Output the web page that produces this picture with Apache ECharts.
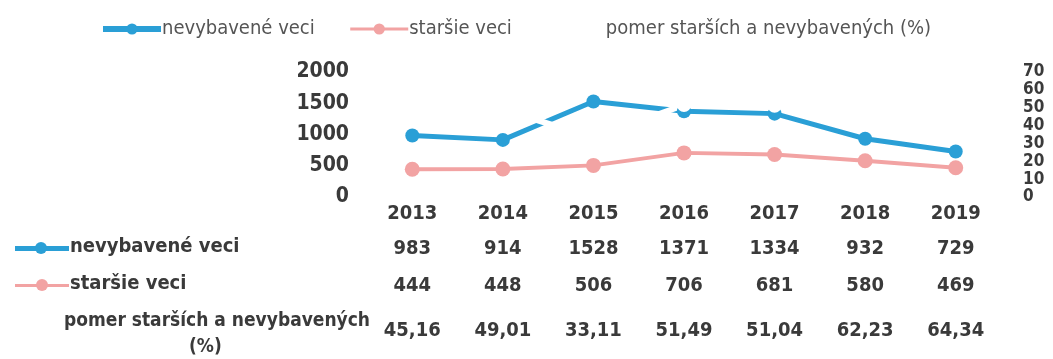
<!DOCTYPE html>
<html>
<head>
<meta charset="utf-8">
<script src="https://cdn.jsdelivr.net/npm/echarts@6/dist/echarts.min.js"></script>
<style>
  html, body { margin: 0; padding: 0; background: #fff; }
  #chart { width: 1053px; height: 359px; }
</style>
</head>
<body>
<div id="chart"></div>
<script>
// Years and the three yearly series
const years = ['2013', '2014', '2015', '2016', '2017', '2018', '2019'];
const nevybavene = [983, 914, 1528, 1371, 1334, 932, 729];
const starsie = [444, 448, 506, 706, 681, 580, 469];
const pomer = [45.16, 49.01, 33.11, 51.49, 51.04, 62.23, 64.34];
const pomerLabels = ['45,16', '49,01', '33,11', '51,49', '51,04', '62,23', '64,34'];

const seriesNames = ['nevybavené veci', 'staršie veci', 'pomer starších a nevybavených (%)'];

const FONT = "'Liberation Sans Narrow', 'DejaVu Sans Condensed', sans-serif";
const TXT = '#3a3a3a';
const BLUE = '#2a9fd6';
const PINK = '#f2a3a3';
const TABLE_SIZE = 20;

const chart = echarts.init(document.getElementById('chart'), null, { renderer: 'canvas' });

// Hidden category axes whose labels form the rows of the data table
function tableAxis(values, offset) {
  return {
    type: 'category',
    data: years,
    position: 'bottom',
    offset: offset,
    axisLine: { show: false },
    axisTick: { show: false },
    axisLabel: {
      interval: 0,
      fontFamily: FONT,
      fontWeight: 'bold',
      fontSize: TABLE_SIZE,
      color: TXT,
      margin: 7,
      formatter: (v, i) => String(values[i])
    }
  };
}

chart.setOption({
  animation: false,
  textStyle: { fontFamily: FONT },
  legend: {
    top: 14,
    left: 95,
    itemGap: 34,
    itemWidth: 58,
    itemHeight: 14,
    textStyle: { fontFamily: FONT, fontSize: 20, color: '#555', padding: [0, 0, 0, -4] },
    data: [
      { name: seriesNames[0], lineStyle: { width: 6 } },
      { name: seriesNames[1], lineStyle: { width: 3 } },
      { name: seriesNames[2] }
    ]
  },
  grid: { left: 367, right: 52, top: 72, bottom: 162, containLabel: false },
  xAxis: [
    {
      type: 'category',
      data: years,
      axisLine: { show: false },
      axisTick: { show: false },
      axisLabel: { interval: 0, fontFamily: FONT, fontWeight: 'bold', fontSize: TABLE_SIZE, color: TXT, margin: 7 }
    },
    tableAxis(nevybavene, 35),
    tableAxis(starsie, 72),
    tableAxis(pomerLabels, 117)
  ],
  yAxis: [
    {
      type: 'value',
      min: 0, max: 2000, interval: 500,
      splitLine: { show: false },
      axisLine: { show: false },
      axisTick: { show: false },
      axisLabel: {
        fontFamily: FONT, fontWeight: 'bold', fontSize: 21, color: TXT, margin: 18,
        formatter: v => String(v)
      }
    },
    {
      type: 'value',
      min: 0, max: 70, interval: 10,
      splitLine: { show: false },
      axisLine: { show: false },
      axisTick: { show: false },
      axisLabel: {
        fontFamily: FONT, fontWeight: 'bold', fontSize: 17, color: TXT, margin: 22,
        showMinLabel: true, showMaxLabel: true, hideOverlap: false,
        formatter: v => String(v)
      }
    }
  ],
  series: [
    {
      name: seriesNames[0],
      type: 'line',
      data: nevybavene,
      symbol: 'circle',
      symbolSize: 14,
      lineStyle: { color: BLUE, width: 5 },
      itemStyle: { color: BLUE }
    },
    {
      name: seriesNames[1],
      type: 'line',
      data: starsie,
      symbol: 'circle',
      symbolSize: 15,
      lineStyle: { color: PINK, width: 4 },
      itemStyle: { color: PINK }
    },
    {
      name: seriesNames[2],
      type: 'line',
      yAxisIndex: 1,
      data: pomer,
      symbol: 'circle',
      symbolSize: 14,
      lineStyle: { color: '#ffffff', width: 6 },
      itemStyle: { color: '#ffffff' }
    }
  ],
  graphic: [
    { type: 'rect', left: 15, top: 246, shape: { width: 54, height: 5 }, style: { fill: BLUE } },
    { type: 'circle', left: 35, top: 242, shape: { r: 6 }, style: { fill: BLUE } },
    { type: 'text', left: 70, top: 237, style: { text: seriesNames[0], font: 'bold ' + TABLE_SIZE + 'px ' + FONT, fill: TXT } },
    { type: 'rect', left: 15, top: 284, shape: { width: 54, height: 3 }, style: { fill: PINK } },
    { type: 'circle', left: 36, top: 279, shape: { r: 6 }, style: { fill: PINK } },
    { type: 'text', left: 70, top: 274, style: { text: seriesNames[1], font: 'bold ' + TABLE_SIZE + 'px ' + FONT, fill: TXT } },
    { type: 'text', left: 64, top: 312, style: { text: 'pomer starších a nevybavených', font: 'bold 19px ' + FONT, fill: TXT } },
    { type: 'text', left: 189, top: 338, style: { text: '(%)', font: 'bold 19px ' + FONT, fill: TXT } }
  ]
});
</script>
</body>
</html>
